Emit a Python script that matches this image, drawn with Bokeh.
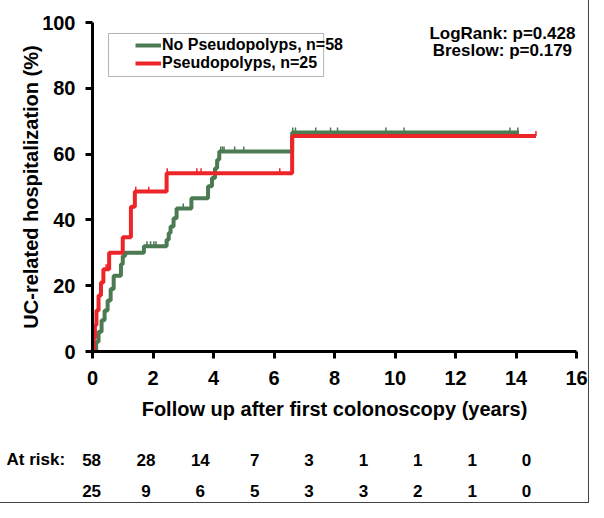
import numpy as np
from bokeh.plotting import figure
from bokeh.layouts import column
from bokeh.models import (ColumnDataSource, Legend, LegendItem, BoxAnnotation,
                          Label, Range1d, FixedTicker)
from bokeh.embed import file_html
from bokeh.resources import INLINE
from bokeh.core.properties import value

# ---------------- data ----------------
green_t = [0, 0.12, 0.2, 0.3, 0.4, 0.5, 0.6, 0.7, 0.94, 1.0, 1.08, 1.7, 2.45, 2.52,
           2.58, 2.68, 2.78, 3.27, 3.82, 3.95, 4.05, 4.12, 4.19, 6.6, 14.1]
green_y = [0, 3, 6, 9.5, 12.5, 15.5, 19, 23, 26.5, 29, 30, 32, 34, 36,
           38, 40.5, 43.5, 46.6, 50.2, 52.7, 55.7, 58.3, 60.8, 66.6, 66.6]
green_cens = [1.8, 1.92, 2.03, 2.1, 3.0, 4.24, 4.3, 4.35, 4.7, 5.0, 6.62, 6.71,
              7.38, 7.87, 8.1, 9.7, 10.3, 13.8, 14.06]

red_t = [0, 0.04, 0.08, 0.13, 0.2, 0.28, 0.36, 0.55, 1.0, 1.27, 1.4, 2.45, 6.6, 14.66]
red_y = [0, 4, 8, 12.5, 17, 21, 25, 30, 34.7, 44, 48.6, 54.2, 65.5, 65.5]
red_cens = [0.45, 0.5, 1.43, 1.86, 2.47, 3.45, 3.59, 6.19, 14.66]

series_labels = ["No Pseudopolyps, n=58", "Pseudopolyps, n=25"]
stats_text = ["LogRank: p=0.428", "Breslow: p=0.179"]

x_ticks = [0, 2, 4, 6, 8, 10, 12, 14, 16]
y_ticks = [0, 20, 40, 60, 80, 100]

risk_label = "At risk:"
risk_no = [58, 28, 14, 7, 3, 1, 1, 1, 0]
risk_yes = [25, 9, 6, 5, 3, 3, 2, 1, 0]

GREEN = "#4c7a52"
RED = "#ee2528"
FONT = "Liberation Sans"

# ---------------- layout geometry (pixels) ----------------
W = 588
H_MAIN = 432
H_TAB = 70
F_LEFT, F_RIGHT, F_TOP, F_BOTTOM = 92, 576, 22, 351
X0, X1 = 0, 16
px_per_x = (F_RIGHT - F_LEFT) / (X1 - X0)

# ---------------- main figure ----------------
p = figure(width=W, height=H_MAIN, x_range=Range1d(X0, X1), y_range=Range1d(0, 100),
           output_backend="svg", toolbar_location=None,
           min_border_left=F_LEFT, min_border_right=W - F_RIGHT,
           min_border_top=F_TOP, min_border_bottom=H_MAIN - F_BOTTOM)
p.frame_align = False
p.grid.visible = False
p.outline_line_color = None

for ax in (p.xaxis[0], p.yaxis[0]):
    ax.axis_line_width = 3
    ax.axis_line_color = "black"
    ax.major_tick_line_width = 3
    ax.major_tick_line_color = "black"
    ax.major_tick_out = 7
    ax.major_tick_in = 0
    ax.minor_tick_line_color = None
    ax.major_label_text_font = FONT
    ax.major_label_text_font_style = "bold"
    ax.major_label_text_font_size = "20px"
    ax.major_label_text_color = "black"
    ax.axis_label_text_font = FONT
    ax.axis_label_text_font_style = "bold"
    ax.axis_label_text_font_size = "20px"
    ax.axis_label_text_color = "black"

p.xaxis.ticker = FixedTicker(ticks=x_ticks)
p.yaxis.ticker = FixedTicker(ticks=y_ticks)
p.xaxis.major_label_standoff = 12
p.yaxis.major_label_standoff = 10
p.xaxis.axis_label = "Follow up after first colonoscopy (years)"
p.yaxis.axis_label = "UC-related hospitalization (%)"
p.xaxis.axis_label_standoff = 10
p.yaxis.axis_label_standoff = -3


def step_value(ts, ys, c):
    idx = np.searchsorted(np.asarray(ts), c, side="right") - 1
    return np.asarray(ys)[idx]


# curves
src_g = ColumnDataSource(dict(t=green_t, y=green_y))
src_r = ColumnDataSource(dict(t=red_t, y=red_y))
r_g = p.step("t", "y", source=src_g, mode="after", line_color=GREEN, line_width=4)
r_r = p.step("t", "y", source=src_r, mode="after", line_color=RED, line_width=4)

# censor marks (short upward ticks)
tick_h = 1.5
for cens, ts, ys, col in ((green_cens, green_t, green_y, GREEN),
                          (red_cens, red_t, red_y, RED)):
    cy = step_value(ts, ys, cens)
    p.segment(x0=cens, y0=cy, x1=cens, y1=cy + tick_h, line_color=col, line_width=1.5)

# legend
p.add_layout(BoxAnnotation(left=0.53, right=7.64, top=96.66, bottom=83.6,
                           fill_alpha=0, line_color="black", line_width=1))
legend = Legend(items=[LegendItem(label=series_labels[0], renderers=[r_g]),
                       LegendItem(label=series_labels[1], renderers=[r_r])],
                location=(39, 275), margin=0, padding=4, spacing=0,
                glyph_width=26, glyph_height=16, label_standoff=1,
                label_height=16,
                border_line_alpha=0, background_fill_alpha=0,
                label_text_font=FONT, label_text_font_style="bold",
                label_text_font_size="16px", label_text_color="black")
p.add_layout(legend)

# statistics text
for i, s in enumerate(stats_text):
    p.add_layout(Label(x=13.55, y=96.6 - 5.2 * i, text=s, text_align="center",
                       text_baseline="middle", text_font=FONT,
                       text_font_style="bold", text_font_size="17px",
                       text_color="black"))

# ---------------- at-risk table (second figure, same x scale) ----------------
tx0 = X0 - F_LEFT / px_per_x
tx1 = X0 + (W - F_LEFT) / px_per_x
t = figure(width=W, height=H_TAB, x_range=Range1d(tx0, tx1),
           y_range=Range1d(2.387, 0.129), output_backend="svg",
           toolbar_location=None, x_axis_location=None, y_axis_location=None,
           min_border=0, min_border_left=0, min_border_right=0,
           min_border_top=0, min_border_bottom=0)
t.frame_align = False
t.grid.visible = False
t.outline_line_color = None

n = len(x_ticks)
x_first = -0.03
x_last = 14.35
pos = [x_first + i * (x_last - x_first) / (n - 1) for i in range(n)]
tab = ColumnDataSource(dict(
    x=pos + pos,
    y=[1] * n + [2] * n,
    txt=[str(v) for v in risk_no] + [str(v) for v in risk_yes]))
t.text(x="x", y="y", text="txt", source=tab, text_align="center",
       text_baseline="middle", text_font=value(FONT), text_font_style="bold",
       text_font_size="17px", text_color="black")
lab = ColumnDataSource(dict(x=[X0 - (F_LEFT - 6) / px_per_x], y=[1], txt=[risk_label]))
t.text(x="x", y="y", text="txt", source=lab, text_align="left",
       text_baseline="middle", text_font=value(FONT), text_font_style="bold",
       text_font_size="17px", text_color="black")

layout = column(p, t, spacing=0)
layout.styles = {"outline": "1px solid #444"}

open("out.html", "w").write(file_html(layout, INLINE))
